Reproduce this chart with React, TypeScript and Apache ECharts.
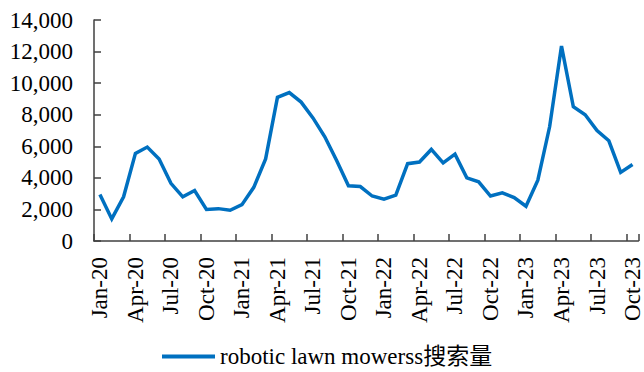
import React, { useEffect, useRef } from "react";
import * as echarts from "echarts";

// Monthly search volume, Jan-20 .. Oct-23
const months: string[] = [
  "Jan-20", "Feb-20", "Mar-20", "Apr-20", "May-20", "Jun-20", "Jul-20", "Aug-20", "Sep-20", "Oct-20", "Nov-20", "Dec-20",
  "Jan-21", "Feb-21", "Mar-21", "Apr-21", "May-21", "Jun-21", "Jul-21", "Aug-21", "Sep-21", "Oct-21", "Nov-21", "Dec-21",
  "Jan-22", "Feb-22", "Mar-22", "Apr-22", "May-22", "Jun-22", "Jul-22", "Aug-22", "Sep-22", "Oct-22", "Nov-22", "Dec-22",
  "Jan-23", "Feb-23", "Mar-23", "Apr-23", "May-23", "Jun-23", "Jul-23", "Aug-23", "Sep-23", "Oct-23",
];

const searchVolume: number[] = [
  2950, 1400, 2800, 5550, 5950, 5200, 3650, 2800, 3200, 2000, 2050, 1950,
  2300, 3400, 5200, 9100, 9400, 8800, 7800, 6600, 5100, 3500, 3450, 2850,
  2650, 2900, 4900, 5000, 5800, 4950, 5500, 4000, 3750, 2850, 3050, 2750,
  2200, 3850, 7250, 12350, 8500, 8000, 7000, 6350, 4350, 4850,
];

const seriesName = "robotic lawn mowerss搜索量";

const yMin = 0;
const yMax = 14000;
const yStep = 2000;

const FONT = "'Liberation Serif', 'Times New Roman', 'Noto Sans CJK SC', serif";
const AXIS_COLOR = "#404040";
const LINE_COLOR = "#0070C0";

export default function App() {
  const ref = useRef<HTMLDivElement>(null);

  useEffect(() => {
    if (!ref.current) return;
    const chart = echarts.init(ref.current, undefined, { renderer: "svg" });
    chart.setOption({
      animation: false,
      backgroundColor: "#ffffff",
      textStyle: { fontFamily: FONT, color: "#000" },
      grid: { left: 94, right: 4, top: 20, bottom: 131, containLabel: false },
      legend: {
        left: 162,
        top: 345,
        padding: 0,
        icon: "rect",
        itemWidth: 53,
        itemHeight: 4,
        itemGap: 5,
        textStyle: { fontFamily: FONT, fontSize: 23, lineHeight: 23, color: "#000" },
        data: [seriesName],
      },
      xAxis: {
        type: "category",
        data: months,
        boundaryGap: true,
        axisLine: { show: true, lineStyle: { color: AXIS_COLOR, width: 1.5 } },
        axisTick: {
          show: true,
          inside: true,
          length: 7,
          interval: 2,
          alignWithLabel: false,
          lineStyle: { color: AXIS_COLOR, width: 1.5 },
        },
        axisLabel: {
          interval: 2,
          rotate: 90,
          margin: 16,
          fontFamily: FONT,
          fontSize: 23,
          color: "#000",
        },
        splitLine: { show: false },
      },
      yAxis: {
        type: "value",
        min: yMin,
        max: yMax,
        interval: yStep,
        axisLine: { show: true, lineStyle: { color: AXIS_COLOR, width: 1.5 } },
        axisTick: { show: true, inside: true, length: 7, lineStyle: { color: AXIS_COLOR, width: 1.5 } },
        axisLabel: {
          margin: 21,
          fontFamily: FONT,
          fontSize: 23,
          color: "#000",
          formatter: (v: number) => v.toLocaleString("en-US"),
        },
        splitLine: { show: false },
      },
      series: [
        {
          name: seriesName,
          type: "line",
          data: searchVolume,
          symbol: "none",
          showSymbol: false,
          lineStyle: { color: LINE_COLOR, width: 3.5, join: "miter" },
          itemStyle: { color: LINE_COLOR },
        },
      ],
    });
    return () => chart.dispose();
  }, []);

  return (
    <div
      ref={ref}
      style={{ position: "fixed", left: 0, top: 0, width: 644, height: 372, background: "#fff" }}
    />
  );
}
